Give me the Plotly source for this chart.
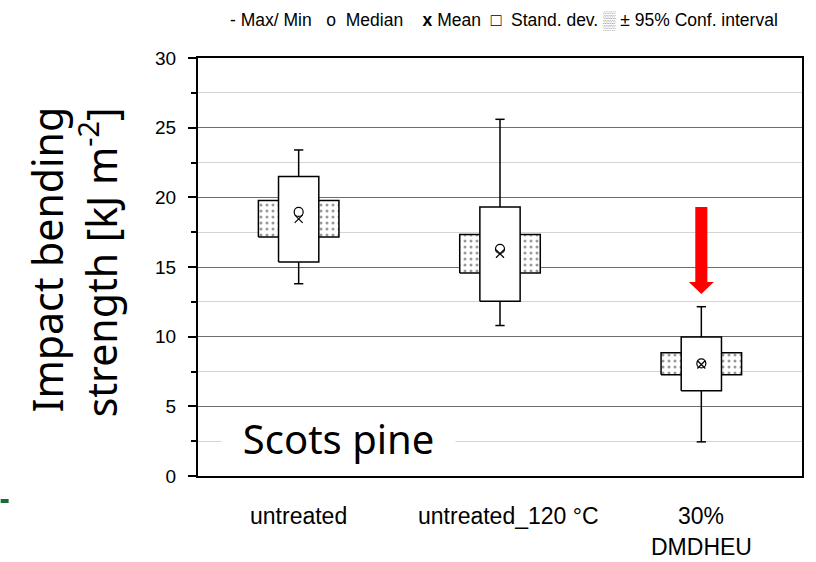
import plotly.graph_objects as go

# ---- data ----
categories = ["untreated", "untreated_120 °C", "30%<br>DMDHEU"]
max_vals = [23.4, 25.6, 12.15]
min_vals = [13.8, 10.8, 2.45]
sd_upper = [21.5, 19.3, 9.98]
sd_lower = [15.35, 12.55, 6.12]
ci_upper = [19.77, 17.33, 8.85]
ci_lower = [17.16, 14.57, 7.27]
median_vals = [18.95, 16.3, 8.08]
mean_vals = [18.45, 15.95, 8.0]
y_ticks = [0, 5, 10, 15, 20, 25, 30]
arrow_cat = 2
arrow_top = 19.3
arrow_tip = 13.07

BOX_HW = 0.1
CI_HW = 0.2
CAP_HW = 0.023

fig = go.Figure()
xs = list(range(len(categories)))

# confidence interval rectangles (stippled)
for i in xs:
    fig.add_trace(go.Scatter(
        x=[i - CI_HW, i + CI_HW, i + CI_HW, i - CI_HW, i - CI_HW],
        y=[ci_lower[i], ci_lower[i], ci_upper[i], ci_upper[i], ci_lower[i]],
        mode="lines", fill="toself", fillcolor="white",
        fillpattern=dict(shape=".", fgcolor="#333333", bgcolor="white", size=6, solidity=0.2),
        line=dict(color="black", width=1.5), hoverinfo="skip", showlegend=False))

# whiskers
for i in xs:
    fig.add_trace(go.Scatter(
        x=[i, i, None, i, i, None, i - CAP_HW, i + CAP_HW, None, i - CAP_HW, i + CAP_HW],
        y=[sd_upper[i], max_vals[i], None, sd_lower[i], min_vals[i], None,
           max_vals[i], max_vals[i], None, min_vals[i], min_vals[i]],
        mode="lines", line=dict(color="black", width=1.5),
        hoverinfo="skip", showlegend=False))

# standard deviation boxes
for i in xs:
    fig.add_trace(go.Scatter(
        x=[i - BOX_HW, i + BOX_HW, i + BOX_HW, i - BOX_HW, i - BOX_HW],
        y=[sd_lower[i], sd_lower[i], sd_upper[i], sd_upper[i], sd_lower[i]],
        mode="lines", fill="toself", fillcolor="white",
        line=dict(color="black", width=1.5), hoverinfo="skip", showlegend=False))

# median and mean
fig.add_trace(go.Scatter(x=xs, y=median_vals, mode="markers",
                         marker=dict(symbol="circle-open", size=9, color="black", line=dict(width=1.2)),
                         showlegend=False))
fig.add_trace(go.Scatter(x=xs, y=mean_vals, mode="markers",
                         marker=dict(symbol="x-thin-open", size=8, color="black", line=dict(width=1.2)),
                         showlegend=False))

# red arrow
sh = 0.03
hh = 0.062
head_len = 0.86
fig.add_shape(type="path",
              path=(f"M {arrow_cat - sh} {arrow_top} L {arrow_cat + sh} {arrow_top} "
                    f"L {arrow_cat + sh} {arrow_tip + head_len} L {arrow_cat + hh} {arrow_tip + head_len} "
                    f"L {arrow_cat} {arrow_tip} L {arrow_cat - hh} {arrow_tip + head_len} "
                    f"L {arrow_cat - sh} {arrow_tip + head_len} Z"),
              xref="x", yref="y", fillcolor="#ff0000", line=dict(width=0), layer="above")

# x category labels
lab_font = dict(family="Liberation Sans, Arial", size=23, color="black")
for i, c in enumerate(categories):
    parts = c.split("<br>")
    for k, p in enumerate(parts):
        fig.add_annotation(x=i, y=(476 - (516 + 31 * k)) / 418, xref="x", yref="paper", text=p,
                           showarrow=False, xshift=8 if i == 1 else 0,
                           font=lab_font, xanchor="center", yanchor="middle")

# Scots pine label
nb = "\u00a0"
fig.add_annotation(x=0.2, y=2.7, xref="x", yref="y", text=f"{nb}{nb}Scots pine{nb}{nb}", showarrow=False,
                   font=dict(family="Noto Sans", size=40, color="black"), bgcolor="white",
                   borderpad=0, xanchor="center", yanchor="middle")

# y title
fig.add_annotation(x=(46 - 198) / 606, y=(476 - 260) / 418, xref="paper", yref="paper", text="Impact bending",
                   textangle=-90, showarrow=False, xanchor="center", yanchor="middle",
                   font=dict(family="Noto Sans", size=41, color="black"))
fig.add_annotation(x=(98 - 198) / 606, y=(476 - 262) / 418, xref="paper", yref="paper",
                   text="strength [kJ m<sup>-2</sup>]",
                   textangle=-90, showarrow=False, xanchor="center", yanchor="middle",
                   font=dict(family="Noto Sans", size=41, color="black"))

# legend text
legend_text = (f"-{nb}Max/{nb}Min{nb}{nb}{nb}o{nb}{nb}Median{nb}{nb}{nb}{nb}<b>x</b>{nb}Mean{nb}{nb}□{nb}{nb}Stand.{nb}dev.{nb}"
               f"<span style='color:#999999'>▒</span>{nb}±{nb}95%{nb}Conf.{nb}interval")
fig.add_annotation(x=(505 - 198) / 606, y=(476 - 20) / 418, xref="paper", yref="paper", text=legend_text,
                   showarrow=False, xanchor="center", yanchor="middle",
                   font=dict(family="Liberation Sans, Arial", size=17.5, color="black"))

# green mark
fig.add_shape(type="rect", xref="paper", yref="paper",
              x0=-198 / 606, x1=(8 - 198) / 606, y0=(476 - 503) / 418, y1=(476 - 499) / 418,
              fillcolor="#1b6b3a", line=dict(width=0))

fig.update_xaxes(range=[-0.5, 2.5], showticklabels=False, showgrid=False, zeroline=False,
                 showline=True, linecolor="black", linewidth=1.5, mirror=True, ticks="")
fig.update_yaxes(range=[0, 30], tickvals=y_ticks, ticks="outside", ticklen=8, tickwidth=2,
                 tickcolor="black", showline=True, linecolor="black", linewidth=2, mirror=True,
                 showgrid=True, gridcolor="#6e6e6e", gridwidth=1, zeroline=False,
                 tickfont=dict(family="Liberation Sans, Arial", size=19, color="black"),
                 ticklabelstandoff=8,
                 minor=dict(dtick=2.5, ticks="outside", ticklen=5, tickwidth=1.5, tickcolor="black",
                            showgrid=True, gridcolor="#d4d4d4", gridwidth=1))

fig.update_layout(width=816, height=562, margin=dict(l=198, r=12, t=58, b=86),
                  plot_bgcolor="white", paper_bgcolor="white", showlegend=False)

fig.write_html("out.html")
